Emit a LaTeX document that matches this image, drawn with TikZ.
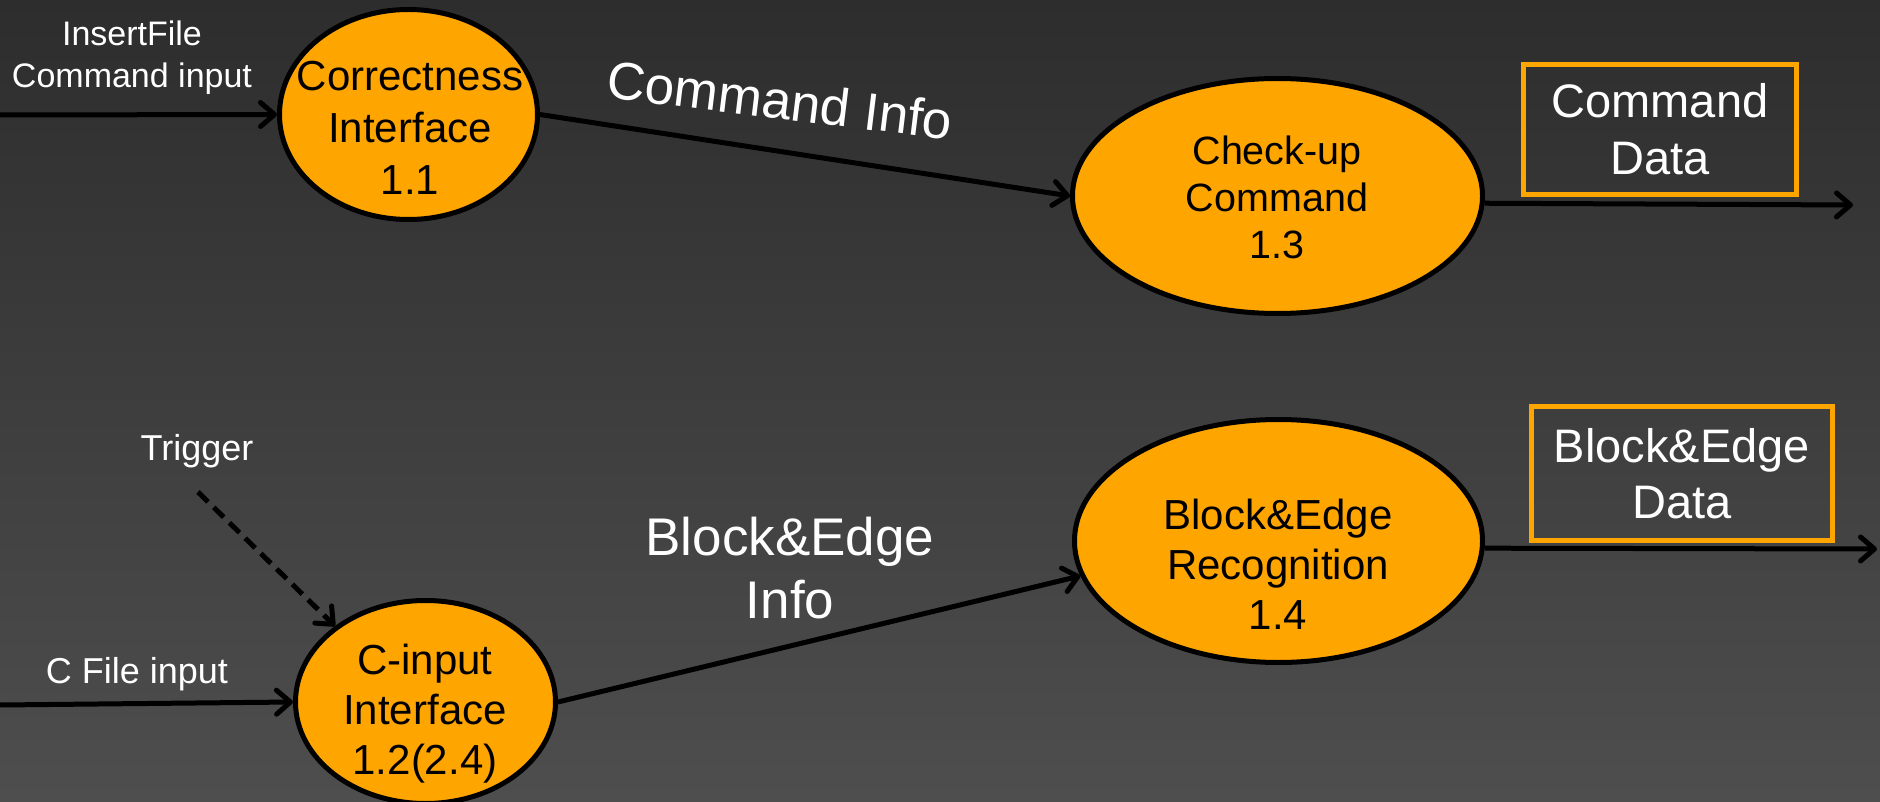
\documentclass[tikz,border=0pt]{standalone}
\usepackage{fontspec}
\setmainfont{Liberation Sans}
\usetikzlibrary{shapes.geometric,arrows.meta}
\definecolor{procfill}{HTML}{FFA500}
\definecolor{bgtop}{HTML}{2D2D2D}
\definecolor{bgbottom}{HTML}{4E4E4E}

\begin{document}
\begin{tikzpicture}[x=1pt,y=-1pt,
  process/.style={ellipse, draw=black, line width=5pt, fill=procfill, inner sep=0pt},
  proclabel/.style={align=center, text=black, inner sep=0pt},
  store/.style={draw=procfill, line width=5pt, inner sep=0pt, align=center, text=white},
  flowlabel/.style={align=center, text=white, inner sep=0pt},
  flow/.style={line width=5pt, -{Straight Barb[length=14pt,width=24pt,line cap=round,line join=round]}},
]
% background
\shade[top color=bgtop, bottom color=bgbottom] (0,0) rectangle (1880,802);
\useasboundingbox (0,0) rectangle (1880,802);

% processes
\node[process, minimum width=258, minimum height=210] (e11) at (408.5,114.5) {};
\node[process, minimum width=260, minimum height=203] (e12) at (425.5,702) {};
\node[process, minimum width=410, minimum height=235] (e13) at (1277.5,196) {};
\node[process, minimum width=408, minimum height=243] (e14) at (1278.5,541) {};

\node[proclabel, font=\fontsize{42}{52}\selectfont] (t11) at (410,128) {Correctness\\Interface\\1.1};
\node[proclabel, font=\fontsize{42}{50}\selectfont] (t12) at (425,714) {C-input\\Interface\\1.2(2.4)};
\node[proclabel, font=\fontsize{39.5}{47}\selectfont] (t13) at (1277,197) {Check-up\\Command\\1.3};
\node[proclabel, font=\fontsize{42}{50}\selectfont] (t14) at (1278,564) {Block\&Edge\\Recognition\\1.4};

% data stores
\node[store, minimum width=273, minimum height=130, font=\fontsize{47}{57}\selectfont] (d1) at (1660,129.5) {Command\\Data};
\node[store, minimum width=301, minimum height=134, font=\fontsize{47}{56}\selectfont] (d2) at (1682,473.5) {Block\&Edge\\Data};

% flow labels
\node[flowlabel, font=\fontsize{34}{42}\selectfont] (l1) at (132,57.5) {InsertFile\\Command input};
\node[flowlabel, font=\fontsize{36}{43}\selectfont] (l2) at (197,451) {Trigger};
\node[flowlabel, font=\fontsize{36}{43}\selectfont] (l3) at (137,674) {C File input};
\node[flowlabel, font=\fontsize{53}{63}\selectfont, rotate=-7] (l4) at (780,100) {Command Info};
\node[flowlabel, font=\fontsize{53}{63}\selectfont] (l5) at (790,568) {Block\&Edge\\Info};

% free ends of the flows
\coordinate (src1) at (0,115);
\coordinate (src2) at (0,705);
\coordinate (trig) at (198,492);
\coordinate (out1) at (1853,205);
\coordinate (out2) at (1877,549);

% flows
\draw[flow] (src1) -- (e11.west);
\draw[flow] (src2) -- (e12.west);
\draw[flow, dash pattern=on 14pt off 8pt] (trig) -- (e12.140);
\draw[flow] (e11.east) -- (e13.west);
\draw[flow] (e12.east) -- (e14.190);
\draw[flow] (e13.-2) -- (out1);
\draw[flow] (e14.-2) -- (out2);
\end{tikzpicture}
\end{document}
